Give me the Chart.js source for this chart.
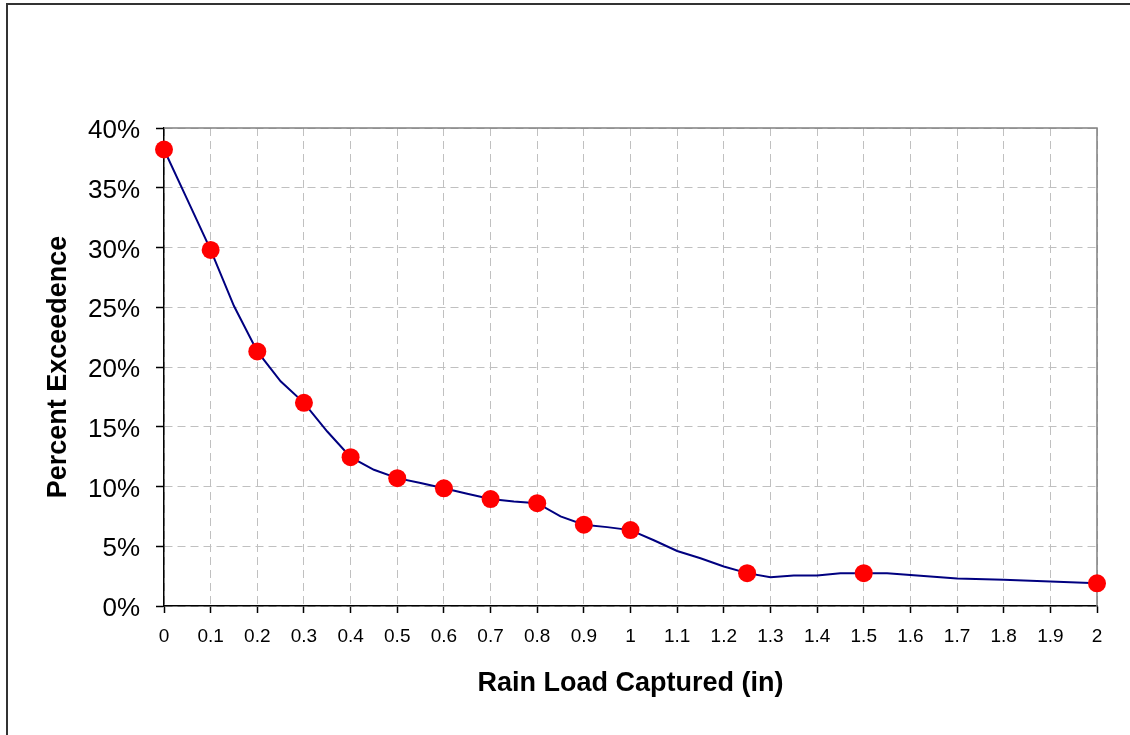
<!DOCTYPE html>
<html>
<head>
<meta charset="utf-8">
<script src="https://cdn.jsdelivr.net/npm/chart.js@4.4.1/dist/chart.umd.min.js"></script>
<style>
  html, body { margin: 0; padding: 0; background: #fff; }
  #wrap { width: 1130px; height: 735px; }
</style>
</head>
<body>
<div id="wrap"><canvas id="myChart" width="1130" height="735"></canvas></div>
<script>
// Datos ------------------------------------------------------------------
// curva completa (linea azul)
const lineX = [0, 0.05, 0.1, 0.15, 0.2, 0.25, 0.3, 0.35, 0.4, 0.45, 0.5, 0.55, 0.6, 0.65, 0.7, 0.75, 0.8, 0.85, 0.9, 0.95, 1.0,
  1.05, 1.1, 1.15, 1.2, 1.25, 1.3, 1.35, 1.4, 1.45, 1.5, 1.55, 1.6, 1.7, 1.8, 1.9, 2.0];
const lineY = [38.2, 34.0, 29.8, 25.1, 21.3, 18.8, 17.0, 14.6, 12.45, 11.4, 10.7, 10.3, 9.85, 9.4, 8.95, 8.75, 8.6, 7.5, 6.8, 6.6, 6.35,
  5.5, 4.6, 4.0, 3.3, 2.75, 2.4, 2.55, 2.55, 2.75, 2.75, 2.75, 2.6, 2.3, 2.2, 2.05, 1.9];
// puntos rojos
const markerX = [0, 0.1, 0.2, 0.3, 0.4, 0.5, 0.6, 0.7, 0.8, 0.9, 1.0, 1.25, 1.5, 2.0];
const markerY = [38.2, 29.8, 21.3, 17.0, 12.45, 10.7, 9.85, 8.95, 8.6, 6.8, 6.35, 2.75, 2.75, 1.9];
// ticks
const xTicks = [0, 0.1, 0.2, 0.3, 0.4, 0.5, 0.6, 0.7, 0.8, 0.9, 1, 1.1, 1.2, 1.3, 1.4, 1.5, 1.6, 1.7, 1.8, 1.9, 2];
const yTicks = [0, 5, 10, 15, 20, 25, 30, 35, 40];

const fontFam = "'Liberation Sans', Arial, sans-serif";
const gridGray = 'rgba(192,192,192,1)';

// borde exterior + borde gris del area de trazado
const framePlugin = {
  id: 'frame',
  beforeDraw(chart) {
    const c = chart.ctx;
    c.save();
    c.fillStyle = '#fff';
    c.fillRect(0, 0, chart.width, chart.height);
    c.strokeStyle = '#333';
    c.lineWidth = 2;
    c.strokeRect(7, 4, chart.width + 20, chart.height + 20);
    c.restore();
  },
  beforeDatasetsDraw(chart) {
    const a = chart.chartArea;
    const c = chart.ctx;
    c.save();
    c.strokeStyle = '#808080';
    c.lineWidth = 1.5;
    c.beginPath();
    c.moveTo(a.left, a.top);
    c.lineTo(a.right, a.top);
    c.lineTo(a.right, a.bottom);
    c.stroke();
    c.restore();
  }
};

const ctx = document.getElementById('myChart');

new Chart(ctx, {
  type: 'scatter',
  data: {
    datasets: [{
      label: 'markers',
      data: markerX.map((x, i) => ({ x: x, y: markerY[i] })),
      showLine: false,
      pointRadius: 9,
      pointBackgroundColor: '#ff0000',
      pointBorderColor: '#ff0000',
      pointBorderWidth: 0,
      clip: false,
      order: 0
    }, {
      label: 'curve',
      data: lineX.map((x, i) => ({ x: x, y: lineY[i] })),
      showLine: true,
      borderColor: '#000080',
      borderWidth: 2,
      pointRadius: 0,
      tension: 0,
      clip: false,
      order: 1
    }]
  },
  options: {
    responsive: false,
    animation: false,
    maintainAspectRatio: false,
    layout: { padding: { top: 128, right: 33, left: 0, bottom: 0 } },
    plugins: {
      legend: { display: false },
      tooltip: { enabled: false }
    },
    scales: {
      x: {
        type: 'linear',
        min: 0,
        max: 2,
        afterBuildTicks: s => { s.ticks = xTicks.map(v => ({ value: v })); },
        afterFit: s => { s.height = 129; },
        ticks: {
          color: '#000',
          padding: 12,
          maxRotation: 0,
          autoSkip: false,
          font: { family: fontFam, size: 19 },
          callback: v => String(Number(v.toFixed(2)))
        },
        grid: {
          color: gridGray,
          lineWidth: 1,
          drawTicks: true,
          tickLength: 7,
          tickColor: '#000',
          tickBorderDash: [],
          tickWidth: 1.5
        },
        border: { display: true, color: '#000', width: 1.5, dash: [8, 5] },
        title: {
          display: true,
          text: 'Rain Load Captured (in)',
          color: '#000',
          font: { family: fontFam, size: 27, weight: 'bold' },
          padding: { top: 0, bottom: 35 }
        }
      },
      y: {
        min: 0,
        max: 40,
        afterBuildTicks: s => { s.ticks = yTicks.map(v => ({ value: v })); },
        afterFit: s => { s.width = 164; },
        ticks: {
          color: '#000',
          padding: 16,
          labelOffset: 3,
          font: { family: fontFam, size: 26 },
          callback: v => v + '%'
        },
        grid: {
          color: gridGray,
          lineWidth: 1,
          drawTicks: true,
          tickLength: 8,
          tickColor: '#000',
          tickBorderDash: [],
          tickWidth: 1.5
        },
        border: { display: true, color: '#000', width: 1.5, dash: [8, 5] },
        title: {
          display: true,
          text: 'Percent Exceedence',
          color: '#000',
          font: { family: fontFam, size: 27, weight: 'bold' },
          padding: { top: 42, bottom: 0 }
        }
      }
    }
  },
  plugins: [framePlugin]
});
</script>
</body>
</html>
